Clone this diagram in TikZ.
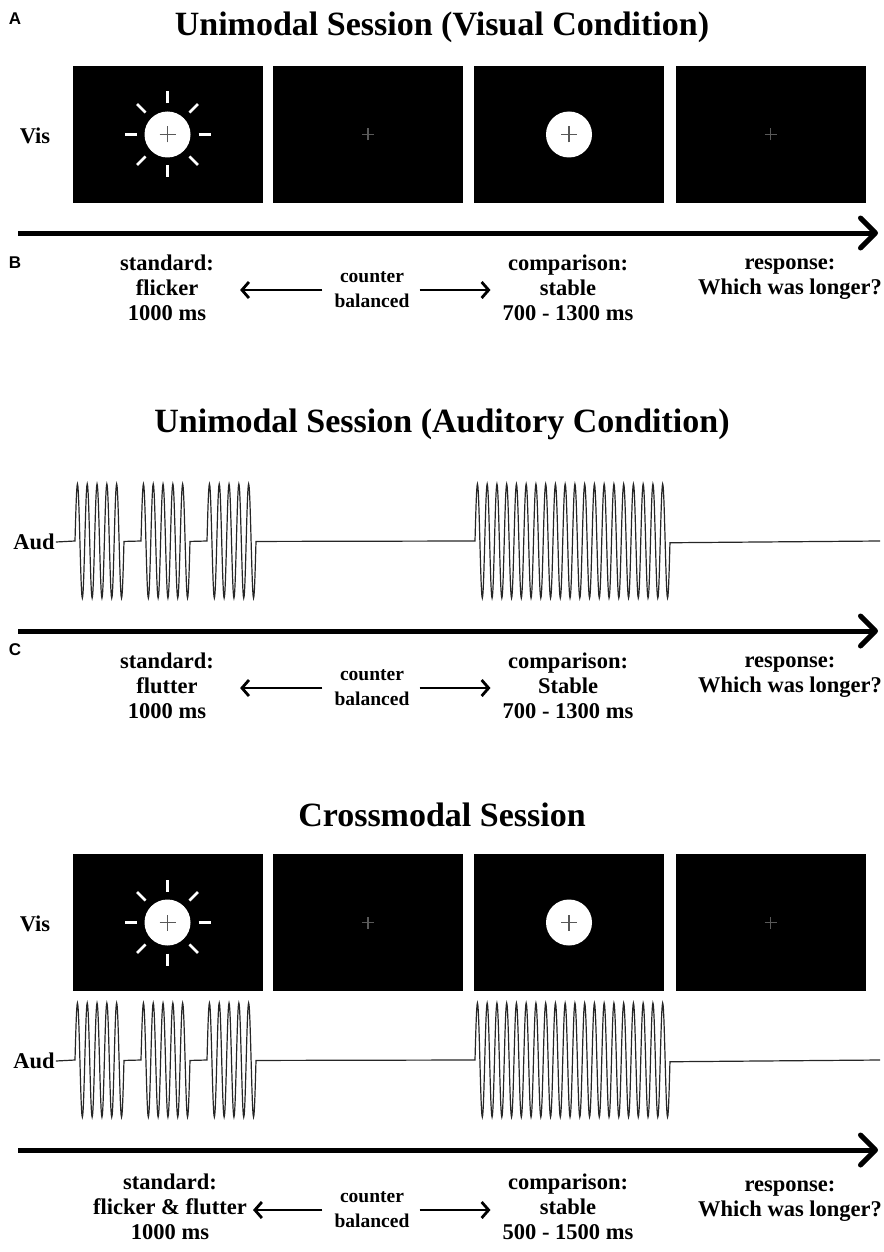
\documentclass[tikz,border=0pt]{standalone}
\usepackage{fontspec}
\setmainfont{Liberation Serif}
\newfontfamily\panelfont{Liberation Sans}
\usetikzlibrary{arrows.meta,positioning}
% rays around the flicker disc
\newcommand{\flicker}[1]{%
  \foreach \a in {0,45,...,315}
    \draw[ray] ([shift={(\a:31pt)}]#1.center) -- ([shift={(\a:43pt)}]#1.center);}
\newcommand{\fixcross}[3]{%
  \draw[#3] ([xshift=-#2]#1.center) -- ([xshift=#2]#1.center)
            ([yshift=-#2]#1.center) -- ([yshift=#2]#1.center);}
% baseline with three flutter bursts and one stable tone
\newcommand{\audwave}[2]{%
  \draw[wave] (#1.east) -- (75,#2)
    -- plot[domain=0:5,samples=121] ({75+9.8*\x},{#2-57*sin(360*\x)})
    -- (141,#2)
    -- plot[domain=0:5,samples=121] ({141+9.8*\x},{#2-57*sin(360*\x)})
    -- (207,#2)
    -- plot[domain=0:5,samples=121] ({207+9.8*\x},{#2-57*sin(360*\x)})
    -- (475,#2)
    -- plot[domain=0:20,samples=481] ({475+9.75*\x},{#2-57*sin(360*\x)})
    -- (880,#2);}

\begin{document}
\begin{tikzpicture}[x=1pt,y=-1pt,
  screen/.style={fill=black,minimum width=190pt,minimum height=137pt,inner sep=0pt},
  disc/.style={circle,fill=white,minimum size=46pt,inner sep=0pt},
  title/.style={font=\fontsize{34}{38}\selectfont\bfseries},
  txt/.style={font=\fontsize{22.5}{25}\selectfont\bfseries,align=center,inner sep=0pt},
  cbal/.style={font=\fontsize{19.5}{25}\selectfont\bfseries,align=center,inner sep=0pt},
  panel/.style={font=\fontsize{17}{17}\selectfont\panelfont\bfseries,inner sep=0pt},
  mod/.style={font=\fontsize{22.5}{22}\selectfont\bfseries,inner sep=1pt},
  timeline/.style={line width=5pt,-{Straight Barb[length=15pt,width=30pt,round]}},
  cbarr/.style={line width=2.8pt,-{Straight Barb[length=7pt,width=16pt]}},
  wave/.style={line width=1.2pt,black!85},
  dimcross/.style={gray!70!black,line width=1.8pt},
  ray/.style={white,line width=2.5pt}]
\useasboundingbox (0,0) rectangle (883,1252);

%% A: visual
\node[panel] (labA) at (15,19) {A};
\node[title] (titA) at (442,27) {Unimodal Session (Visual Condition)};
\node[screen] (vA1) at (167.5,134.5) {};
\node[screen] (vA2) at (368,134.5) {};
\node[screen] (vA3) at (569,134.5) {};
\node[screen] (vA4) at (770.5,134.5) {};
\node[mod] (visA) at (35,136) {Vis};
\node[disc] (dA1) at (vA1) {};
\flicker{dA1}
\node[disc] (dA3) at (vA3) {};
\fixcross{dA1}{8pt}{dimcross}
\fixcross{vA2}{6pt}{dimcross}
\fixcross{dA3}{8pt}{dimcross}
\fixcross{vA4}{6pt}{dimcross}
\coordinate (tA0) at (18,233);
\coordinate (tA1) at (878,233);
\draw[timeline] (tA0) -- (tA1);
\node[panel] (labB) at (15,263) {B};
\node[txt] (stdA) at (167,288) {standard:\\flicker\\1000 ms};
\node[cbal] (cbA) at (372,290) {counter\\balanced};
\node[txt] (cmpA) at (568,288) {comparison:\\stable\\700 - 1300 ms};
\node[txt] (rspA) at (790,279) {response:\\Which was longer?};
\draw[cbarr,shorten <=12pt,shorten >=26pt] (cbA.west) -- (cbA.west -| stdA.east);
\draw[cbarr,shorten <=10pt,shorten >=12pt] (cbA.east) -- (cbA.east -| cmpA.west);

%% B: auditory
\node[title] (titB) at (442,424) {Unimodal Session (Auditory Condition)};
\node[mod] (audB) at (34,542) {Aud};
\audwave{audB}{541}
\coordinate (tB0) at (18,631);
\coordinate (tB1) at (878,631);
\draw[timeline] (tB0) -- (tB1);
\node[panel] (labC) at (15,650) {C};
\node[txt] (stdB) at (167,686) {standard:\\flutter\\1000 ms};
\node[cbal] (cbB) at (372,688) {counter\\balanced};
\node[txt] (cmpB) at (568,686) {comparison:\\Stable\\700 - 1300 ms};
\node[txt] (rspB) at (790,677) {response:\\Which was longer?};
\draw[cbarr,shorten <=12pt,shorten >=26pt] (cbB.west) -- (cbB.west -| stdB.east);
\draw[cbarr,shorten <=10pt,shorten >=12pt] (cbB.east) -- (cbB.east -| cmpB.west);

%% crossmodal
\node[title] (titC) at (442,815) {Crossmodal Session};
\node[screen] (vC1) at (167.5,922.5) {};
\node[screen] (vC2) at (368,922.5) {};
\node[screen] (vC3) at (569,922.5) {};
\node[screen] (vC4) at (770.5,922.5) {};
\node[mod] (visC) at (35,924) {Vis};
\node[disc] (dC1) at (vC1) {};
\flicker{dC1}
\node[disc] (dC3) at (vC3) {};
\fixcross{dC1}{8pt}{dimcross}
\fixcross{vC2}{6pt}{dimcross}
\fixcross{dC3}{8pt}{dimcross}
\fixcross{vC4}{6pt}{dimcross}
\node[mod] (audC) at (34,1061) {Aud};
\audwave{audC}{1060}
\coordinate (tC0) at (18,1150);
\coordinate (tC1) at (878,1150);
\draw[timeline] (tC0) -- (tC1);
\node[txt] (stdC) at (170,1207) {standard:\\flicker \& flutter\\1000 ms};
\node[cbal] (cbC) at (372,1210) {counter\\balanced};
\node[txt] (cmpC) at (568,1207) {comparison:\\stable\\500 - 1500 ms};
\node[txt] (rspC) at (790,1201) {response:\\Which was longer?};
\draw[cbarr,shorten <=12pt,shorten >=6pt] (cbC.west) -- (cbC.west -| stdC.east);
\draw[cbarr,shorten <=10pt,shorten >=12pt] (cbC.east) -- (cbC.east -| cmpC.west);
\end{tikzpicture}
\end{document}
